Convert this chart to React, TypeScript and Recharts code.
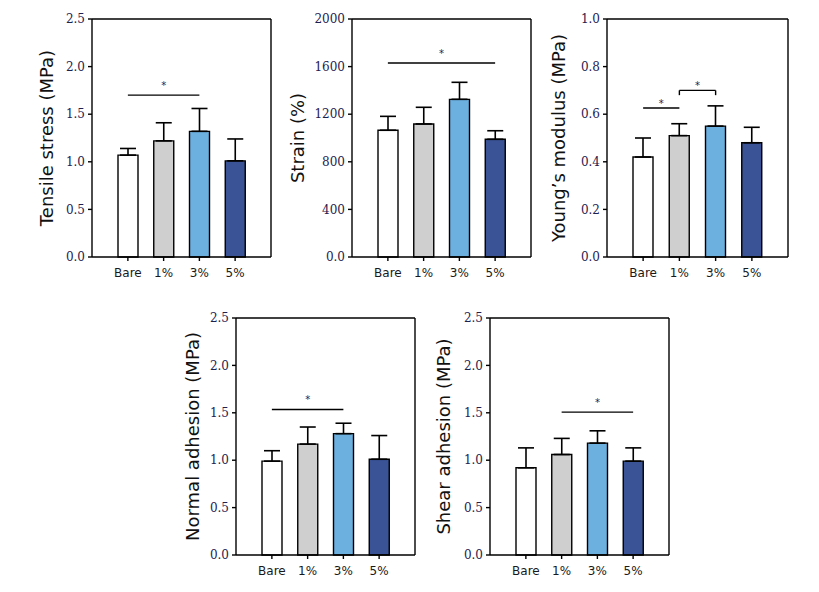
import {
  BarChart, Bar, Cell, XAxis, YAxis, ErrorBar, ReferenceLine, CartesianGrid,
} from "recharts";

const CATEGORIES = ["Bare", "1%", "3%", "5%"];
const FILLS = ["#ffffff", "#d0cfcf", "#6cb0e0", "#3a5396"];

const TENSILE_MEAN = [1.07, 1.22, 1.32, 1.01];
const TENSILE_SD = [0.07, 0.19, 0.24, 0.23];
const STRAIN_MEAN = [1065, 1118, 1325, 989];
const STRAIN_SD = [117, 140, 143, 72];
const MODULUS_MEAN = [0.42, 0.51, 0.55, 0.48];
const MODULUS_SD = [0.08, 0.05, 0.085, 0.065];
const NORMAL_MEAN = [0.99, 1.17, 1.28, 1.01];
const NORMAL_SD = [0.11, 0.18, 0.11, 0.25];
const SHEAR_MEAN = [0.92, 1.06, 1.18, 0.99];
const SHEAR_SD = [0.21, 0.17, 0.13, 0.14];

const TICKS_MPA = [0, 0.5, 1, 1.5, 2, 2.5];
const TICKS_STRAIN = [0, 400, 800, 1200, 1600, 2000];
const TICKS_MODULUS = [0, 0.2, 0.4, 0.6, 0.8, 1];

// significance bars: from / to category, height, optional bracket drop
const TENSILE_SIG = [{ from: "Bare", to: "3%", y: 1.7 }];
const STRAIN_SIG = [{ from: "Bare", to: "5%", y: 1630 }];
const MODULUS_SIG = [
  { from: "Bare", to: "1%", y: 0.626 },
  { from: "1%", to: "3%", y: 0.7, drop: 0.68 },
];
const NORMAL_SIG = [{ from: "Bare", to: "3%", y: 1.535 }];
const SHEAR_SIG = [{ from: "1%", to: "5%", y: 1.507 }];

const fmt1 = (v: number) => v.toFixed(1);
const fmtStrain = (v: number) => (v === 0 ? "0.0" : String(v));

const PANELS = [
  { title: "Tensile stress (MPa)", mean: TENSILE_MEAN, sd: TENSILE_SD, ticks: TICKS_MPA, fmt: fmt1, sig: TENSILE_SIG,
    left: 92, top: 19, w: 179, h: 238, titleDist: 46, starOff: 6 },
  { title: "Strain (%)", mean: STRAIN_MEAN, sd: STRAIN_SD, ticks: TICKS_STRAIN, fmt: fmtStrain, sig: STRAIN_SIG,
    left: 352, top: 19, w: 179, h: 238, titleDist: 55, starOff: 6 },
  { title: "Young\u2019s modulus (MPa)", mean: MODULUS_MEAN, sd: MODULUS_SD, ticks: TICKS_MODULUS, fmt: fmt1, sig: MODULUS_SIG,
    left: 607, top: 19, w: 181, h: 238, titleDist: 49, starOff: 1.5 },
  { title: "Normal adhesion (MPa)", mean: NORMAL_MEAN, sd: NORMAL_SD, ticks: TICKS_MPA, fmt: fmt1, sig: NORMAL_SIG,
    left: 236, top: 318, w: 179, h: 237, titleDist: 44, starOff: 6 },
  { title: "Shear adhesion (MPa)", mean: SHEAR_MEAN, sd: SHEAR_SD, ticks: TICKS_MPA, fmt: fmt1, sig: SHEAR_SIG,
    left: 490, top: 318, w: 179, h: 237, titleDist: 47, starOff: 6 },
];

const AXIS_W = 80;
const X_H = 35;
const M_TOP = 10;
const M_RIGHT = 10;
const INK = "#000";
const TICK_INK = "#1e2150";
const LINE = { stroke: INK, strokeWidth: 1.4 };

function Panel({ p }: { p: any }) {
  const data = CATEGORIES.map((c, i) => ({ cat: c, mean: p.mean[i], err: [0, p.sd[i]] }));
  const max = p.ticks[p.ticks.length - 1];
  const width = p.w + AXIS_W + M_RIGHT;
  const height = p.h + M_TOP + X_H;

  const titleContent = (props: any) => {
    const vb = props.viewBox || {};
    const cx = vb.x + vb.width - p.titleDist;
    const cy = vb.y + vb.height / 2;
    return (
      <text
        x={cx} y={cy} transform={`rotate(-90 ${cx} ${cy})`}
        textAnchor="middle" dominantBaseline="central"
        fontFamily="DejaVu Sans" fontSize={18} fill="#111"
      >
        {p.title}
      </text>
    );
  };

  return (
    <div style={{ position: "absolute", left: p.left - AXIS_W, top: p.top - M_TOP }}>
      <BarChart width={width} height={height} data={data}
        margin={{ top: M_TOP, right: M_RIGHT, bottom: 0, left: 0 }}>
        {/* frame: top and right edges of the plot box */}
        <CartesianGrid
          {...LINE}
          horizontalCoordinatesGenerator={({ offset }: any) => [offset.top]}
          verticalCoordinatesGenerator={({ offset }: any) => [offset.left + offset.width]}
        />
        <XAxis
          dataKey="cat" interval={0} height={X_H}
          padding={{ left: 18, right: 18 }}
          tickSize={4} tickMargin={7}
          tick={{ fontSize: 12, fontFamily: "DejaVu Sans", fill: "#1a1a1a" }}
          axisLine={LINE} tickLine={LINE}
        />
        <YAxis
          type="number" width={AXIS_W} domain={[0, max]} ticks={p.ticks}
          tickFormatter={p.fmt} tickSize={4} tickMargin={3}
          tick={{ fontSize: 12, fontFamily: "DejaVu Serif", fill: TICK_INK }}
          axisLine={LINE} tickLine={LINE}
          label={{ content: titleContent }}
        />
        <Bar dataKey="mean" barSize={20} stroke={INK} strokeWidth={1.4} isAnimationActive={false}>
          {data.map((d, i) => <Cell key={d.cat} fill={FILLS[i]} />)}
          <ErrorBar dataKey="err" direction="y" width={8} stroke={INK} strokeWidth={1.6} isAnimationActive={false} />
        </Bar>
        {p.sig.map((s: any, i: number) => (
          <ReferenceLine
            key={`s${i}`}
            segment={[{ x: s.from, y: s.y }, { x: s.to, y: s.y }]}
            {...LINE}
            label={{ value: "*", position: "top", offset: p.starOff, fontSize: 10, fontFamily: "DejaVu Sans", fill: TICK_INK }}
          />
        ))}
        {p.sig.filter((s: any) => s.drop !== undefined).flatMap((s: any, i: number) => [
          <ReferenceLine key={`da${i}`} segment={[{ x: s.from, y: s.y }, { x: s.from, y: s.drop }]} {...LINE} />,
          <ReferenceLine key={`db${i}`} segment={[{ x: s.to, y: s.y }, { x: s.to, y: s.drop }]} {...LINE} />,
        ])}
      </BarChart>
    </div>
  );
}

export default function App() {
  return (
    <div style={{ position: "absolute", left: 0, top: 0, width: 819, height: 592, background: "#fff" }}>
      {PANELS.map((p) => <Panel key={p.title} p={p} />)}
    </div>
  );
}
